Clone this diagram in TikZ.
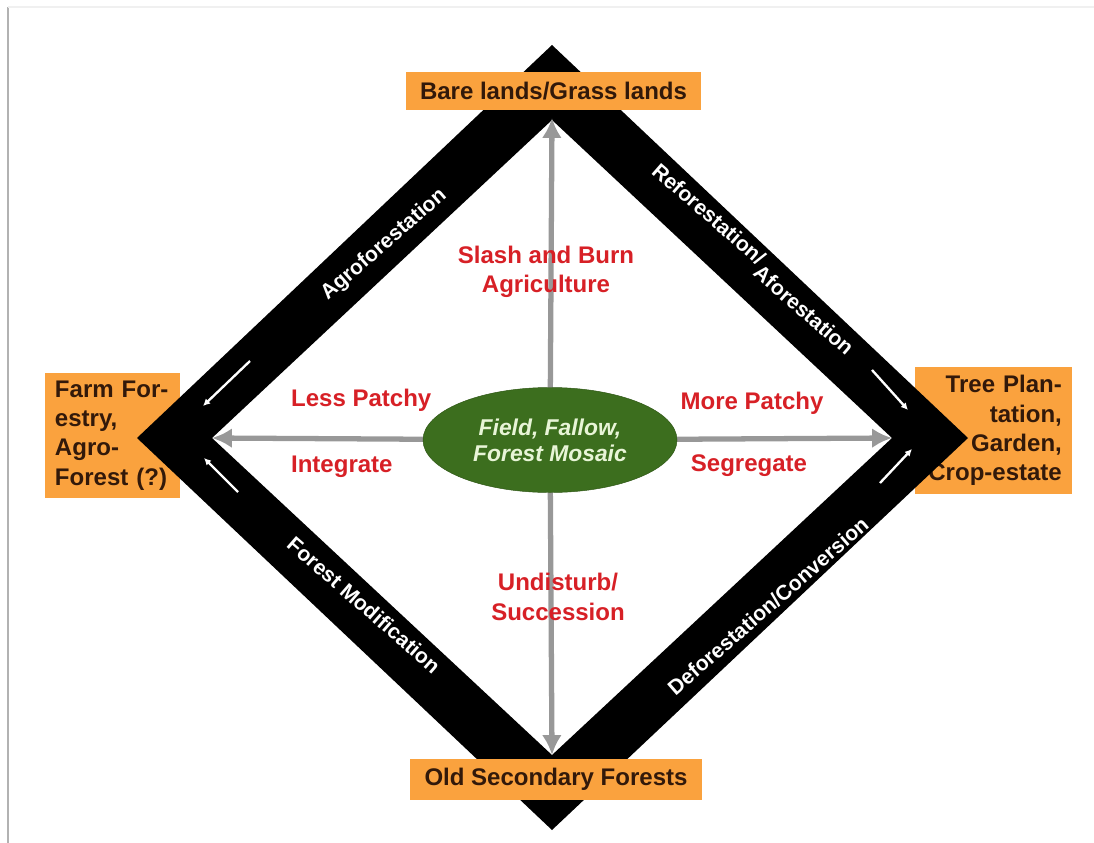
\documentclass[tikz,border=0pt]{standalone}
\usepackage{fontspec}
\setmainfont{Liberation Sans}
\usetikzlibrary{shapes.geometric, arrows.meta}
\definecolor{boxorange}{RGB}{250,162,62}
\definecolor{boxtext}{RGB}{50,25,10}
\definecolor{mosaicgreen}{RGB}{60,110,30}
\definecolor{mosaicrim}{RGB}{45,85,20}
\definecolor{mosaictext}{RGB}{232,245,215}
\definecolor{labelred}{RGB}{215,32,38}
\definecolor{arrowgray}{RGB}{152,152,152}

\begin{document}
\begin{tikzpicture}[x=0.03cm, y=-0.03cm,
    every node/.style={font=\bfseries\fontsize{20.5}{25}\selectfont},
    statebox/.style={fill=boxorange, text=boxtext, inner sep=0pt},
    redlabel/.style={text=labelred, align=center},
    bandlabel/.style={text=white, font=\bfseries\fontsize{18}{20}\selectfont},
    grayarrow/.style={arrowgray, line width=4.5pt, -{Latex[length=17pt,width=17pt]}},
    smallarrow/.style={white, line width=2pt, -{Latex[length=6pt,width=6pt]}}]
      \useasboundingbox (0,0) rectangle (1094,843);
      % slide frame
      \draw[gray!60, line width=1.8pt] (8,843) -- (8,7);
      \draw[gray!12, line width=1pt] (8,7) -- (1094,7);
      % left and right states, partly under the diamond
      \node[statebox, minimum width=4.05cm, minimum height=3.75cm,
            text width=3.45cm, align=left] (farm) at (112.5,435.5)
            {Farm For-\\estry,\\Agro-\\Forest (?)};
      \node[statebox, minimum width=4.71cm, minimum height=3.81cm, inner xsep=0.3cm,
            text width=4.1cm, align=right] (plantation) at (993.5,430.5)
            {Tree Plan-\\tation,\\Garden,\\Crop-estate};
      % diamond corners
      \coordinate (topin) at (552,118);
      \coordinate (rightin) at (892,438);
      \coordinate (bottomin) at (552,755);
      \coordinate (leftin) at (212,438);
      % black diamond band
      \fill[black, even odd rule] (552,45) -- (968,438) -- (552,830) -- (137,438) -- cycle
           (552,120) -- (892,438) -- (552,755) -- (212,438) -- cycle;
      % top and bottom states, over the diamond
      \node[statebox, minimum width=8.85cm, minimum height=1.14cm] (bare) at (553.5,91)
            {Bare lands/Grass lands};
      \node[statebox, minimum width=8.76cm, minimum height=1.23cm] (old) at (556,779.5)
            {Old Secondary Forests};
      % centre mosaic and its four arrows
      \coordinate (mid) at (550,440);
      \draw[grayarrow] (mid) -- (topin);
      \draw[grayarrow] (mid) -- (rightin);
      \draw[grayarrow] (mid) -- (bottomin);
      \draw[grayarrow] (mid) -- (leftin);
      \node[ellipse, fill=mosaicgreen, draw=mosaicrim, thin, minimum width=7.62cm,
            minimum height=3.15cm, inner sep=0pt, text=mosaictext, align=center,
            font=\bfseries\itshape\fontsize{19.5}{22}\selectfont] (mosaic) at (mid)
            {Field, Fallow,\\Forest Mosaic};
      % red labels
      \node[redlabel] (slash) at (546,272) {Slash and Burn\\Agriculture};
      \node[redlabel, anchor=west] (less) at (287,400) {Less Patchy};
      \node[redlabel, anchor=west] (integrate) at (287,467) {Integrate};
      \node[redlabel] (more) at (752,403) {More Patchy};
      \node[redlabel] (segregate) at (749,466) {Segregate};
      \node[redlabel] (undisturb) at (558,597) {Undisturb/\\Succession};
      % labels along the band
      \node[bandlabel, rotate=41] (agro) at (384,245) {Agroforestation};
      \node[bandlabel, rotate=-41] (refo) at (709,214) {Reforestation/};
      \node[bandlabel, rotate=-41] (afo) at (804,310) {Aforestation};
      \node[bandlabel, rotate=-41] (modif) at (364,605) {Forest Modification};
      \node[bandlabel, rotate=41] (defo) at (768,606) {Deforestation/Conversion};
      % small white arrows near the side corners
      \coordinate (la1) at (250,361); \coordinate (la2) at (203,406);
      \coordinate (lb1) at (238,492); \coordinate (lb2) at (204,458);
      \coordinate (ra1) at (872,370); \coordinate (ra2) at (908,410);
      \coordinate (rb1) at (880,483); \coordinate (rb2) at (912,449);
      \draw[smallarrow] (la1) -- (la2);
      \draw[smallarrow] (lb1) -- (lb2);
      \draw[smallarrow] (ra1) -- (ra2);
      \draw[smallarrow] (rb1) -- (rb2);
\end{tikzpicture}
\end{document}
